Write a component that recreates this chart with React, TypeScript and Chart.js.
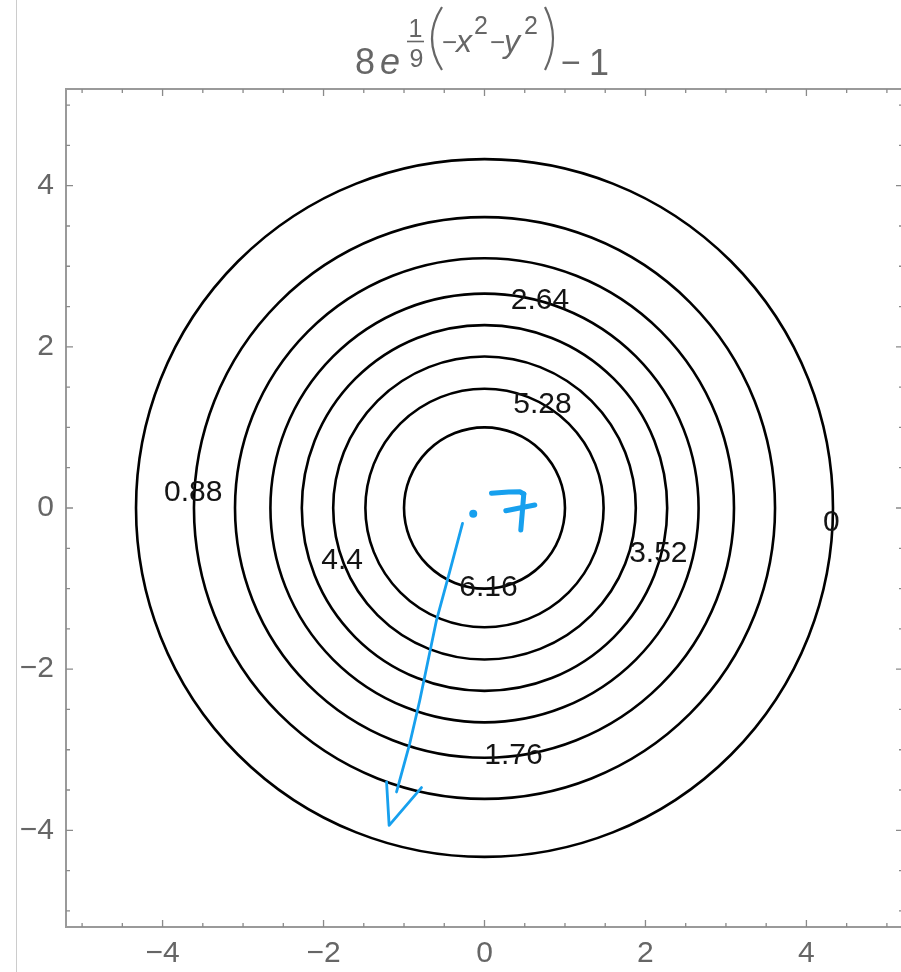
import React, { useEffect, useRef } from "react";
import { Chart, registerables } from "chart.js";

Chart.register(...registerables);

// Contour levels of 8 e^((-x^2-y^2)/9) - 1 (the labels on the curves)
const contourLevels = [0, 0.88, 1.76, 2.64, 3.52, 4.4, 5.28, 6.16];
// Radius of each contour circle (data units)
const contourRadii = [4.33, 3.61, 3.1, 2.66, 2.27, 1.88, 1.48, 1.0];
// Where each level label sits (data units)
const labelX = [4.31, -3.62, 0.36, 0.69, 2.16, -1.77, 0.72, 0.05];
const labelY = [-0.17, 0.2, -3.06, 2.59, -0.55, -0.64, 1.3, -0.98];
// Axis ticks
const tickValues = [-4, -2, 0, 2, 4];
const tickLabels = ["\u22124", "\u22122", "0", "2", "4"];
const axisMin = -5.2;
const axisMax = 5.2;
const minorStep = 0.5;

// Hand-drawn blue annotation, in data units
const noteDot = [-0.14, -0.07];
const noteSevenTop = [
  [0.087, 0.183],
  [0.3, 0.2],
  [0.439, 0.202],
  [0.488, 0.174],
];
const noteSevenStem = [
  [0.488, 0.174],
  [0.47, -0.05],
  [0.451, -0.273],
];
const noteSevenBar = [
  [0.265, -0.034],
  [0.625, 0.037],
];
const noteArrow = [
  [-0.273, -0.19],
  [-0.43, -0.78],
  [-0.596, -1.391],
  [-0.804, -2.385],
  [-0.928, -2.92],
  [-1.093, -3.524],
];
const noteArrowHead = [
  [-1.217, -3.4],
  [-1.185, -3.938],
  [-0.783, -3.47],
];

const GRAY_TEXT = "#666666";
const FRAME = "#9a9a9a";
const BLUE = "#17a0ee";
const FONT = '"Liberation Sans", Arial, sans-serif';

function tickPositions(): number[] {
  const out: number[] = [];
  for (let v = Math.ceil(axisMin / minorStep) * minorStep; v <= axisMax + 1e-9; v += minorStep) {
    out.push(Math.round(v * 2) / 2);
  }
  return out;
}

function labelFor(v: number): string {
  const i = tickValues.indexOf(v);
  return i >= 0 ? tickLabels[i] : "";
}

function toPx(chart: any, p: number[]): [number, number] {
  return [chart.scales.x.getPixelForValue(p[0]), chart.scales.y.getPixelForValue(p[1])];
}

function strokePts(ctx: CanvasRenderingContext2D, chart: any, pts: number[][]) {
  ctx.beginPath();
  pts.forEach((p, i) => {
    const [a, b] = toPx(chart, p);
    if (i === 0) ctx.moveTo(a, b);
    else ctx.lineTo(a, b);
  });
  ctx.stroke();
}

const contourPlugin = {
  id: "contourPlugin",
  afterDatasetsDraw(chart: any) {
    const { ctx, chartArea: a, scales } = chart;
    const xs = scales.x;
    const ys = scales.y;
    const cx = xs.getPixelForValue(0);
    const cy = ys.getPixelForValue(0);

    ctx.save();
    ctx.beginPath();
    ctx.rect(a.left, a.top, a.right - a.left, a.bottom - a.top);
    ctx.clip();

    // contour circles
    ctx.strokeStyle = "#000";
    ctx.lineWidth = 2.6;
    contourRadii.forEach((r) => {
      const rx = xs.getPixelForValue(r) - cx;
      const ry = cy - ys.getPixelForValue(r);
      ctx.beginPath();
      ctx.ellipse(cx, cy, rx, ry, 0, 0, Math.PI * 2);
      ctx.stroke();
    });

    // level labels
    const meta = chart.getDatasetMeta(0);
    ctx.font = `30px ${FONT}`;
    ctx.fillStyle = "#141414";
    ctx.textAlign = "center";
    ctx.textBaseline = "middle";
    meta.data.forEach((pt: any, i: number) => {
      ctx.fillText(String(contourLevels[i]), pt.x, pt.y + 1);
    });

    // hand-drawn annotation
    ctx.strokeStyle = BLUE;
    ctx.fillStyle = BLUE;
    ctx.lineCap = "round";
    ctx.lineJoin = "round";
    ctx.lineWidth = 5;
    strokePts(ctx, chart, noteSevenTop);
    strokePts(ctx, chart, noteSevenStem);
    strokePts(ctx, chart, noteSevenBar);
    const [dx, dy] = toPx(chart, noteDot);
    ctx.beginPath();
    ctx.arc(dx, dy, 4, 0, Math.PI * 2);
    ctx.fill();
    ctx.lineWidth = 2.8;
    strokePts(ctx, chart, noteArrow);
    strokePts(ctx, chart, noteArrowHead);
    ctx.restore();

    // frame
    ctx.save();
    ctx.strokeStyle = FRAME;
    ctx.lineWidth = 2;
    ctx.strokeRect(a.left, a.top, a.right - a.left, a.bottom - a.top);

    // ticks inside the frame on all four sides
    ctx.lineWidth = 1.3;
    ctx.strokeStyle = "#8a8a8a";
    tickPositions().forEach((v) => {
      const major = tickValues.indexOf(v) >= 0;
      const len = major ? 7 : 4;
      const px = xs.getPixelForValue(v);
      const py = ys.getPixelForValue(v);
      ctx.beginPath();
      ctx.moveTo(px, a.bottom);
      ctx.lineTo(px, a.bottom - len);
      ctx.moveTo(px, a.top);
      ctx.lineTo(px, a.top + len);
      ctx.moveTo(a.left, py);
      ctx.lineTo(a.left + len, py);
      ctx.moveTo(a.right, py);
      ctx.lineTo(a.right - len, py);
      ctx.stroke();
    });
    ctx.restore();
  },
  afterDraw(chart: any) {
    const { ctx } = chart;
    ctx.save();
    // page edge line at left
    ctx.strokeStyle = "#cccccc";
    ctx.lineWidth = 1;
    ctx.beginPath();
    ctx.moveTo(16.5, 0);
    ctx.lineTo(16.5, chart.height);
    ctx.stroke();

    // title: 8 e^(1/9 (-x^2 - y^2)) - 1
    ctx.fillStyle = GRAY_TEXT;
    ctx.strokeStyle = GRAY_TEXT;
    ctx.textBaseline = "alphabetic";
    const put = (t: string, x: number, y: number, size: number, italic = false, align: CanvasTextAlign = "left") => {
      ctx.font = `${italic ? "italic " : ""}${size}px ${FONT}`;
      ctx.textAlign = align;
      ctx.fillText(t, x, y);
    };
    put("8", 355, 74, 36);
    put("e", 380, 74, 36, true);
    put("1", 415.5, 37, 25, false, "center");
    ctx.lineWidth = 1.6;
    ctx.beginPath();
    ctx.moveTo(407, 41.5);
    ctx.lineTo(424, 41.5);
    ctx.stroke();
    put("9", 416.5, 67, 25, false, "center");
    ctx.lineWidth = 2.2;
    ctx.beginPath();
    ctx.moveTo(442, 7);
    ctx.quadraticCurveTo(422, 38.5, 442, 70);
    ctx.stroke();
    put("\u2212", 442, 51, 26);
    put("x", 456, 52, 32, true);
    put("2", 474, 34, 25);
    put("\u2212", 490, 51, 26);
    put("y", 504, 52, 32, true);
    put("2", 524, 34, 25);
    ctx.lineWidth = 2.2;
    ctx.beginPath();
    ctx.moveTo(545, 7);
    ctx.quadraticCurveTo(561, 38.5, 545, 70);
    ctx.stroke();
    put("\u2212", 561, 74, 34);
    put("1", 589, 75, 36);
    ctx.restore();
  },
};

export default function App() {
  const ref = useRef<HTMLCanvasElement>(null);
  useEffect(() => {
    document.body.style.margin = "0";
    const canvas = ref.current!;
    const axisCommon = {
      type: "linear" as const,
      min: axisMin,
      max: axisMax,
      grid: { display: false, drawTicks: false },
      border: { display: false },
      afterBuildTicks: (s: any) => {
        s.ticks = tickPositions().map((v) => ({ value: v }));
      },
    };
    const chart = new Chart(canvas, {
      type: "scatter",
      data: {
        datasets: [
          {
            data: labelX.map((x, i) => ({ x, y: labelY[i] })),
            pointRadius: 0,
            pointHoverRadius: 0,
            showLine: false,
          },
        ],
      },
      options: {
        animation: false,
        responsive: false,
        devicePixelRatio: 1,
        events: [],
        layout: { padding: { top: 89, right: 7, left: 0, bottom: 0 } },
        plugins: {
          legend: { display: false },
          tooltip: { enabled: false },
          title: { display: false },
        },
        scales: {
          x: {
            ...axisCommon,
            position: "bottom",
            afterFit: (s: any) => {
              s.height = 45;
            },
            ticks: {
              autoSkip: false,
              maxRotation: 0,
              minRotation: 0,
              padding: 9,
              color: GRAY_TEXT,
              font: { family: FONT, size: 30 },
              callback: (v: any) => labelFor(Number(v)),
            },
          },
          y: {
            ...axisCommon,
            position: "left",
            afterFit: (s: any) => {
              s.width = 66;
            },
            ticks: {
              autoSkip: false,
              padding: 12,
              color: GRAY_TEXT,
              font: { family: FONT, size: 30 },
              callback: (v: any) => labelFor(Number(v)),
            },
          },
        },
      } as any,
      plugins: [contourPlugin],
    });
    return () => chart.destroy();
  }, []);
  return (
    <div
      style={{
        position: "fixed",
        left: 0,
        top: 0,
        width: 901,
        height: 972,
        overflow: "hidden",
        background: "#fff",
      }}
    >
      <canvas ref={ref} width={910} height={972} style={{ display: "block" }} />
    </div>
  );
}
